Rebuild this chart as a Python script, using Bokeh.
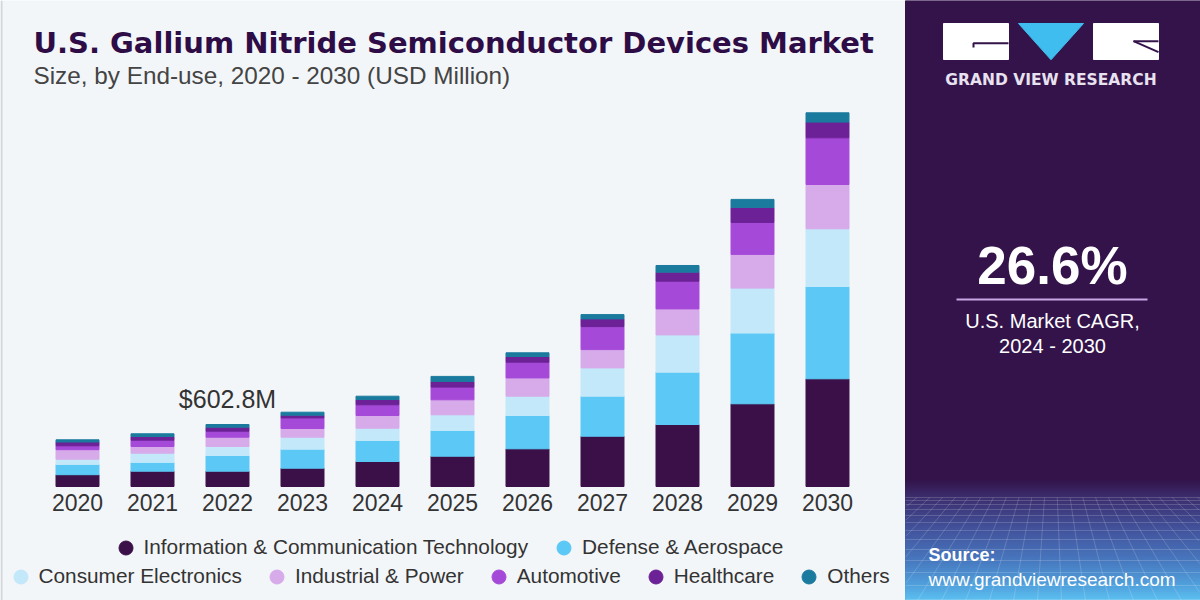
import numpy as np
from bokeh.plotting import figure
from bokeh.models import Range1d, Label, Legend, LegendItem, ColumnDataSource
from bokeh.core.properties import value
from bokeh.embed import file_html
from bokeh.resources import INLINE

# ---- data (USD Million) ----
years = ["2020", "2021", "2022", "2023", "2024", "2025", "2026", "2027", "2028", "2029", "2030"]
segments = ["Information & Communication Technology", "Defense & Aerospace",
            "Consumer Electronics", "Industrial & Power", "Automotive", "Healthcare", "Others"]
ict        = [114.7, 148.8, 148.8, 177.9, 243.1, 294.6, 366.5, 489.0, 602.8, 804.1, 1047.1]
defense    = [100.1, 85.6, 152.6, 184.7, 204.2, 249.9, 323.8, 388.9, 508.5, 687.4, 897.4]
consumer   = [50.6, 89.4, 87.5, 116.7, 119.6, 152.6, 187.6, 275.2, 362.7, 437.5, 561.0]
industrial = [92.4, 65.1, 90.4, 84.6, 123.5, 145.8, 177.9, 177.9, 252.8, 327.7, 430.7]
automotive = [37.9, 61.3, 58.3, 103.1, 104.0, 123.5, 152.6, 223.6, 269.3, 311.1, 454.1]
healthcare = [36.9, 36.0, 38.9, 26.3, 51.5, 55.4, 55.4, 74.9, 87.5, 145.8, 152.6]
others     = [21.4, 26.3, 26.3, 29.2, 32.1, 48.6, 36.0, 41.8, 65.1, 77.8, 90.4]
labelled_year = "2022"
cagr_text = "26.6%"

colors = ["#3b1048", "#5bc8f5", "#c2e8f9", "#d7aaea", "#a54ad8", "#6c2196", "#1b7b9e"]
keys = ["ict", "defense", "consumer", "industrial", "automotive", "healthcare", "others"]
series = [ict, defense, consumer, industrial, automotive, healthcare, others]

BG = "#f3f6f9"
PANEL = "#33134a"
FONT = "Liberation Sans"

# value axis: baseline 486 px from the top, 9.7226 USD M per pixel
K = 9.7226
x0 = 2020 - 77 / 75
p = figure(width=1200, height=600, x_range=Range1d(x0, x0 + 1200 / 75),
           y_range=Range1d(-114 * K, 486 * K), output_backend="svg",
           toolbar_location=None, x_axis_location=None, y_axis_location=None,
           min_border=0, background_fill_color=BG, border_fill_color=BG,
           outline_line_color=None)
p.grid.visible = False
# page-pixel coordinates for the decoration and headings
p.extra_x_ranges = {"px": Range1d(0, 1200)}
p.extra_y_ranges = {"px": Range1d(600, 0)}
PX = dict(x_range_name="px", y_range_name="px")

year_num = [int(y) for y in years]
src = ColumnDataSource(dict(year=year_num, **dict(zip(keys, series))))
p.vbar_stack(keys, x="year", width=0.573, color=colors, source=src)

# year labels under the bars
p.text(x=year_num, y=[0] * len(years), text=years, y_offset=16, text_align="center",
       text_baseline="middle", text_font=value(FONT), text_font_size="23px",
       text_color="#333333")

# total label above one bar
i = years.index(labelled_year)
total = sum(s[i] for s in series)
lab_src = ColumnDataSource(dict(year=[year_num[i]], total=[total], text=[f"${total:.1f}M"]))
p.text(x="year", y="total", text="text", source=lab_src, y_offset=-26,
       text_align="center", text_baseline="middle", text_font=value(FONT),
       text_font_size="25px", text_color="#333333")

# left edge rule
p.segment(x0=[1], y0=[0], x1=[1], y1=[600], line_color="#d3d6da", line_width=2, **PX)

# headings
p.add_layout(Label(x=33, y=42, text="U.S. Gallium Nitride Semiconductor Devices Market",
                   text_font="DejaVu Sans", text_font_style="bold", text_font_size="29px",
                   text_color="#2e0d47", text_baseline="middle", **PX))
p.add_layout(Label(x=33, y=75, text="Size, by End-use, 2020 - 2030 (USD Million)",
                   text_font=FONT, text_font_size="24.3px", text_color="#444444",
                   text_baseline="middle", **PX))

# legend (two centred rows of circle markers); NaN points keep the proxies invisible
proxies = [p.scatter(x=[np.nan], y=[np.nan], marker="circle", color=c) for c in colors]


def add_legend(idx, left_px, center_py, spacing):
    lg = Legend(items=[LegendItem(label=segments[k], renderers=[proxies[k]]) for k in idx],
                location=(left_px, 600 - (center_py + 17.5)),
                orientation="horizontal", glyph_width=35, glyph_height=35,
                label_standoff=1, spacing=spacing, padding=0, margin=0,
                border_line_color=None, background_fill_alpha=0,
                label_text_font=FONT, label_text_font_size="20.8px",
                label_text_color="#333333")
    p.add_layout(lg, "center")


add_legend([0, 1], 107.5, 547, 18)
add_legend([2, 3, 4, 5, 6], 2.5, 576, 17)

# ---- right-hand panel ----
PL = 905
p.quad(left=[PL], right=[1200], top=[0], bottom=[600], color=PANEL, **PX)


def hex_to_rgb(h):
    h = h.lstrip("#")
    return np.array([int(h[j:j + 2], 16) for j in (0, 2, 4)], dtype=float)


stops_y = [480, 500, 530, 560, 585, 600]
stops_c = [hex_to_rgb(c) for c in ["#33134a", "#3c3172", "#42539c", "#4777be", "#50a0dc", "#5cbff0"]]
ys = np.arange(480, 600, 2)
cols = []
for yv in ys:
    rgb = [np.interp(yv + 1, stops_y, [c[k] for c in stops_c]) for k in range(3)]
    cols.append("#%02x%02x%02x" % tuple(int(round(v)) for v in rgb))
p.quad(left=PL, right=1200, top=ys, bottom=ys + 2, color=cols, **PX)

# perspective grid on the floor
GT = 497
hy = [497, 500, 504, 509, 515, 522, 530, 539, 549, 560, 572, 585, 599]
p.multi_line(xs=[[PL, 1200]] * len(hy), ys=[[h, h] for h in hy],
             line_color="white", line_alpha=0.17, line_width=1, **PX)
vp_x, vp_y = PL + 147, 380
xs_v, ys_v = [], []
for b in np.arange(PL - 300, PL + 600, 24):
    top_x = vp_x + (b - vp_x) * (GT - vp_y) / (600 - vp_y)
    # clip each line to the panel
    pts = []
    for t in np.linspace(0, 1, 60):
        xx = top_x + t * (b - top_x)
        if PL <= xx <= 1200:
            pts.append((xx, GT + t * (600 - GT)))
    if len(pts) >= 2:
        xs_v.append([pts[0][0], pts[-1][0]])
        ys_v.append([pts[0][1], pts[-1][1]])
p.multi_line(xs=xs_v, ys=ys_v, line_color="white", line_alpha=0.17, line_width=1, **PX)

# logo
p.quad(left=[PL + 38, PL + 188], right=[PL + 103, PL + 253], top=[23, 23], bottom=[59, 59],
       color="white", **PX)
p.patch(x=[PL + 113, PL + 178, PL + 145.5], y=[23, 23, 59.3], color="#3fbdef", **PX)
p.multi_line(xs=[[PL + 68, PL + 68, PL + 103], [PL + 228, PL + 253], [PL + 228, PL + 253]],
             ys=[[47, 42.7, 42.7], [40.7, 40.7], [40.7, 51.7]],
             line_color=PANEL, line_width=2, **PX)
p.add_layout(Label(x=PL + 145.5, y=79, text="GRAND VIEW RESEARCH", text_font="DejaVu Sans",
                   text_font_style="bold", text_font_size="15.5px", text_color="#e8e1f0",
                   text_align="center", text_baseline="middle", **PX))

# CAGR block
p.add_layout(Label(x=PL + 147, y=265, text=cagr_text, text_font=FONT, text_font_style="bold",
                   text_font_size="53px", text_color="white",
                   text_align="center", text_baseline="middle", **PX))
p.segment(x0=[PL + 51], y0=[299], x1=[PL + 242], y1=[299], line_color="#c9a6e6",
          line_width=2, **PX)
for txt, yy in [("U.S. Market CAGR,", 320), ("2024 - 2030", 345)]:
    p.add_layout(Label(x=PL + 147, y=yy, text=txt, text_font=FONT, text_font_size="20px",
                       text_color="white", text_align="center", text_baseline="middle", **PX))

# source
p.add_layout(Label(x=PL + 23, y=554, text="Source:", text_font=FONT, text_font_style="bold",
                   text_font_size="18px", text_color="white", text_baseline="middle", **PX))
p.add_layout(Label(x=PL + 23, y=579, text="www.grandviewresearch.com", text_font=FONT,
                   text_font_size="19px", text_color="white", text_baseline="middle", **PX))

open("out.html", "w").write(file_html(p, INLINE))
